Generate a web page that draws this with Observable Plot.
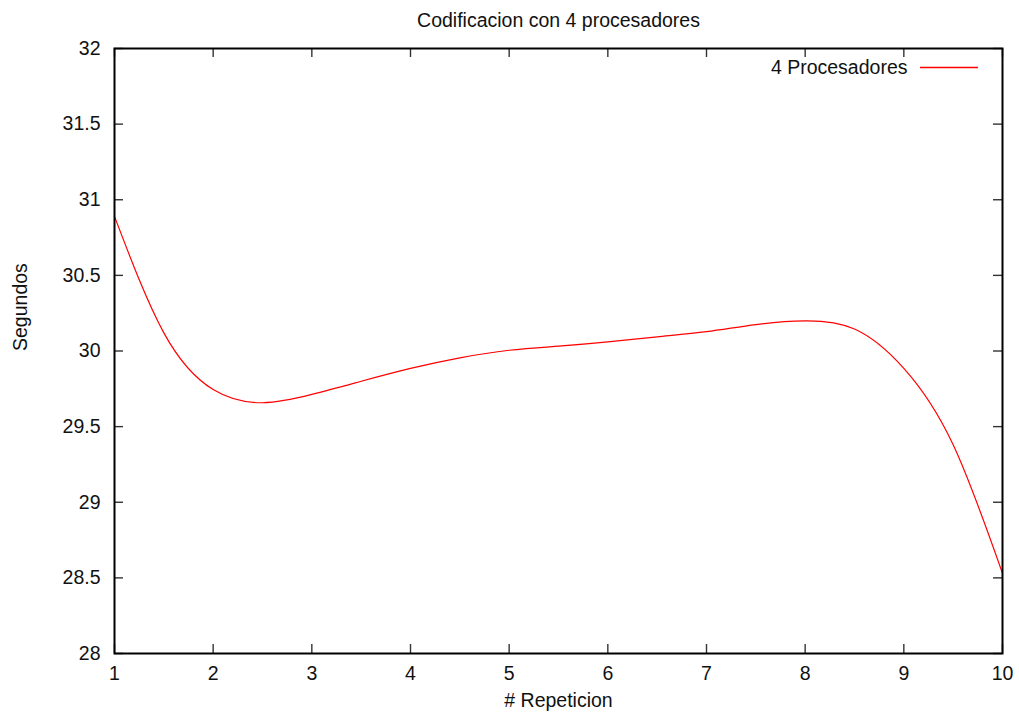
<!DOCTYPE html>
<html>
<head>
<meta charset="utf-8">
<script src="https://cdn.jsdelivr.net/npm/d3@7"></script>
<script src="https://cdn.jsdelivr.net/npm/@observablehq/plot@0.6"></script>
<style>
  html, body { margin: 0; padding: 0; background: #fff; }
  svg { font-family: "Liberation Sans", Arial, Helvetica, sans-serif; }
</style>
</head>
<body>
<div id="wrap"></div>
<script>
const title = "Codificacion con 4 procesadores";
const xLabel = "# Repeticion";
const yLabel = "Segundos";
const seriesName = "4 Procesadores";
// curve at every half repetition
const repeticion = [1, 1.5, 2, 2.5, 3, 3.5, 4, 4.5, 5, 5.5, 6, 6.5, 7, 7.5, 8, 8.5, 9, 9.5, 10];
const segundos = [30.89, 30.12, 29.745, 29.658, 29.713, 29.80, 29.885, 29.955, 30.005, 30.032, 30.06, 30.094, 30.128, 30.175, 30.199, 30.145, 29.885, 29.38, 28.53];
const xTicks = [1, 2, 3, 4, 5, 6, 7, 8, 9, 10];
const yTicks = [28, 28.5, 29, 29.5, 30, 30.5, 31, 31.5, 32];

const W = 1019, H = 715;
const mL = 114, mR = 17, mT = 48, mB = 62;
const fw = W - mL - mR, fh = H - mT - mB;
const tick = 9;
const fs = 19.5;
const lineColor = "#ff0000";

const data = repeticion.map((x, i) => ({x, y: segundos[i]}));
const tickStyle = {stroke: "#333", strokeWidth: 1.4};

const chart = Plot.plot({
  width: W, height: H,
  marginLeft: mL, marginRight: mR, marginTop: mT, marginBottom: mB,
  style: {fontSize: fs + "px", fontFamily: "Liberation Sans, Arial, sans-serif", color: "#111", background: "#fff"},
  x: {domain: [1, 10], label: null},
  y: {domain: [28, 32], label: null},
  marks: [
    Plot.tickX(xTicks, {x: d => d, insetTop: fh - tick, ...tickStyle}),
    Plot.tickX(xTicks, {x: d => d, insetBottom: fh - tick, ...tickStyle}),
    Plot.tickY(yTicks, {y: d => d, insetRight: fw - tick, ...tickStyle}),
    Plot.tickY(yTicks, {y: d => d, insetLeft: fw - tick, ...tickStyle}),
    Plot.axisX(xTicks, {anchor: "bottom", tickSize: 0, tickPadding: 13, label: null, fill: "#111"}),
    Plot.axisY(yTicks, {anchor: "left", tickSize: 0, tickPadding: 14, label: null, fill: "#111", tickFormat: d => String(d)}),
    Plot.line(data, {x: "x", y: "y", curve: "natural", stroke: lineColor, strokeWidth: 1.2}),
    Plot.frame({stroke: "#000", strokeWidth: 2}),
    Plot.text([title], {frameAnchor: "top", dy: -28, lineAnchor: "middle", fill: "#111"}),
    Plot.text([xLabel], {frameAnchor: "bottom", dy: 47, lineAnchor: "middle", fill: "#111"}),
    Plot.text([yLabel], {frameAnchor: "left", dx: -94, rotate: -90, lineAnchor: "middle", fill: "#111"}),
    Plot.text([seriesName], {frameAnchor: "top-right", dx: -95, dy: 19.5, textAnchor: "end", lineAnchor: "middle", fill: "#111"})
  ]
});
// legend swatch (key sample line, gnuplot style)
d3.select(chart).append("line")
  .attr("x1", W - mR - 82).attr("x2", W - mR - 24)
  .attr("y1", mT + 19.5).attr("y2", mT + 19.5)
  .style("stroke", lineColor).style("stroke-width", "1.5px");
document.getElementById("wrap").appendChild(chart);
</script>
</body>
</html>
